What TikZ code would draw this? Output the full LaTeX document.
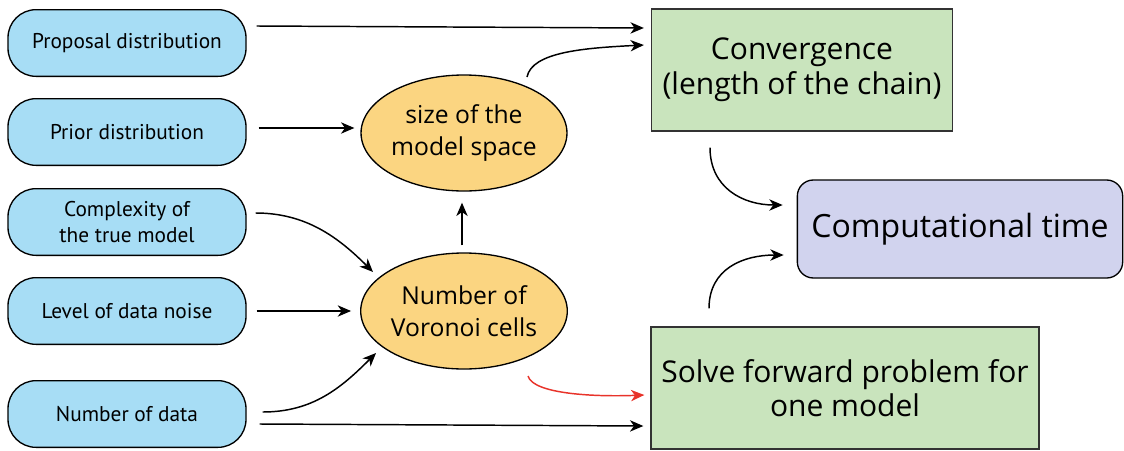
\documentclass[tikz,border=0pt]{standalone}
\usepackage{fontspec}
\usepackage{tikz}
\usetikzlibrary{arrows.meta,positioning,shapes.geometric,calc}
\newfontfamily\inputfont{PT Sans}
\newfontfamily\handfont{Open Sans}
\definecolor{skyfill}{HTML}{A7DDF5}
\definecolor{orangefill}{HTML}{FBD581}
\definecolor{greenfill}{HTML}{C9E4BD}
\definecolor{lilacfill}{HTML}{D1D3EE}
\definecolor{redline}{HTML}{E8332A}
\tikzstyle{inputbox} = [rectangle, rounded corners=21pt, draw=black, line width=1pt, minimum width=178.5pt, minimum height=50pt, align=center, fill=skyfill, font=\inputfont\fontsize{16}{20}\selectfont]
\tikzstyle{factor} = [ellipse, draw=black, line width=1pt, minimum width=151.5pt, minimum height=87pt, inner sep=0pt, align=center, fill=orangefill, font=\handfont\fontsize{18.5}{24}\selectfont]
\tikzstyle{costbox} = [rectangle, draw=black!80, line width=1pt, minimum height=91.5pt, align=center, fill=greenfill, font=\handfont\fontsize{22.5}{26}\selectfont]
\tikzstyle{timebox} = [rectangle, rounded corners=12pt, draw=black, line width=1pt, minimum width=244pt, minimum height=73.5pt, align=center, fill=lilacfill, font=\handfont\fontsize{24}{26}\selectfont]
\tikzstyle{arrow} = [-{Stealth[length=10pt,width=8.5pt,inset=3pt]}, line width=1.1pt]

\begin{document}
\begin{tikzpicture}[x=0.75pt, y=-0.75pt]
\useasboundingbox (0,0) rectangle (1124,450);
\node[inputbox] (proposal) at (127,43) {Proposal distribution};
\node[inputbox] (prior) at (127,132) {Prior distribution};
\node[inputbox] (complexity) at (127,222) {Complexity of\\the true model};
\node[inputbox] (noise) at (127,311) {Level of data noise};
\node[inputbox] (ndata) at (127,414) {Number of data};
\node[factor] (space) at (464,133) {size of the\\model space};
\node[factor] (voronoi) at (464,311) {Number of\\Voronoi cells};
\node[costbox, minimum width=225.75pt] (conv) at (802,70) {Convergence\\(length of the chain)};
\node[costbox, minimum width=291pt] (forward) at (845,388) {Solve forward problem for\\one model};
\node[timebox] (comptime) at (960,229) {Computational time};

\draw[arrow] ($(proposal.east)+(10,-17)$) -- ($(conv.west)+(-7,-42)$);
\draw[arrow] ($(prior.east)+(12,-4)$) -- ($(space.west)+(-6,-5)$);
\draw[arrow] ($(complexity.east)+(9,-9)$) .. controls +(50,0) and +(-35,-35) .. ($(voronoi)+(-91,-39)$);
\draw[arrow] ($(noise.east)+(10,0)$) -- ($(voronoi.west)+(-9,0)$);
\draw[arrow] ($(ndata.east)+(16,-2)$) .. controls +(50,0) and +(-35,35) .. ($(voronoi)+(-88,42)$);
\draw[arrow] ($(ndata.east)+(13,10)$) -- ($(forward.west)+(-7,38)$);
\draw[arrow] ($(voronoi.north)+(-2,-7)$) -- ($(space.south)+(-2,11)$);
\draw[arrow] ($(space)+(63,-56)$) .. controls +(5,-25) and +(-60,3) .. ($(conv.west)+(-7,-25)$);
\draw[arrow, redline] ($(voronoi)+(64,65)$) .. controls +(5,18) and +(-50,2) .. ($(forward.west)+(-6,7)$);
\draw[arrow] ($(conv.south)+(-92,16)$) .. controls +(0,40) and +(-40,0) .. ($(comptime.west)+(-14,-24)$);
\draw[arrow] ($(forward.north)+(-136,-18)$) .. controls +(0,-40) and +(-40,0) .. ($(comptime.west)+(-13,26)$);
\end{tikzpicture}
\end{document}
